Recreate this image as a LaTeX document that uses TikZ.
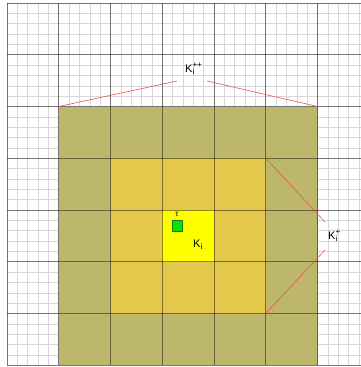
\documentclass[tikz,border=0pt]{standalone}
\usepackage{fontspec}
\setmainfont{Liberation Sans}
\definecolor{olivefill}{RGB}{189,183,107}
\definecolor{midfill}{RGB}{227,200,76}
\definecolor{corefill}{RGB}{255,255,0}
\definecolor{tauin}{RGB}{0,230,0}
\definecolor{tauout}{RGB}{30,120,30}
\definecolor{pointer}{RGB}{240,80,80}
\newcommand{\smtxt}[1]{\mbox{\fontsize{8}{9}\selectfont #1}}
\tikzset{
  fineline/.style={draw=black!16, line width=0.6pt},
  coarseline/.style={draw=black, draw opacity=0.45, line width=0.8pt},
  pointerline/.style={draw=pointer, line width=0.6pt},
  lbl/.style={inner sep=0pt, font=\fontsize{11}{13}\selectfont, anchor=base west},
}
\begin{document}
\begin{tikzpicture}[x=1pt,y=-1pt]
\useasboundingbox (0,0) rectangle (361,367);
\clip (0,0) rectangle (361,367);
\def\s{51.75}
% fine grid
\foreach \i in {0,...,34} { \draw[fineline] ({7+\i*\s/5},3) -- ({7+\i*\s/5},365.25); }
\foreach \j in {0,...,35} { \draw[fineline] (7,{3+\j*\s/5}) -- (361,{3+\j*\s/5}); }
% fills
\fill[olivefill] ({7+\s},{3+2*\s}) rectangle ({7+6*\s},{3+7*\s});
\fill[midfill] ({7+2*\s},{3+3*\s}) rectangle ({7+5*\s},{3+6*\s});
\fill[corefill] ({7+3*\s},{3+4*\s}) rectangle ({7+4*\s},{3+5*\s});
% coarse grid
\foreach \i in {0,...,6} { \draw[coarseline] ({7+\i*\s},3) -- ({7+\i*\s},365.25); }
\foreach \j in {0,...,7} { \draw[coarseline] (7,{3+\j*\s}) -- (361,{3+\j*\s}); }
% tau square
\draw[fill=tauin, draw=tauout, line width=0.8pt] (172,220) rectangle (182,231);
\node[inner sep=0pt, font=\fontsize{8}{9}\selectfont, anchor=base] (tau) at (177,216) {τ};
% labels
\node[lbl] (kpp) at (185,72) {$\mbox{K}_{\smtxt{i}}^{\smtxt{++}}$};
\node[lbl] (kp) at (328,239) {$\mbox{K}_{\smtxt{i}}^{\smtxt{+}}$};
\node[lbl] (ki) at (193,247) {$\mbox{K}_{\smtxt{i}}$};
% pointer coordinates
\coordinate (ppL) at ({7+\s},{3+2*\s});
\coordinate (ppR) at ({7+6*\s},{3+2*\s});
\coordinate (pTop) at ({7+5*\s},{3+3*\s});
\coordinate (pBot) at ({7+5*\s},{3+6*\s});
\coordinate (ppLend) at (177,81);
\coordinate (ppRend) at (207,81);
\coordinate (pTopend) at (325,222);
\coordinate (pBotend) at (325,250);
\draw[pointerline] (ppL) -- (ppLend);
\draw[pointerline] (ppRend) -- (ppR);
\draw[pointerline] (pTop) -- (pTopend);
\draw[pointerline] (pBot) -- (pBotend);
\end{tikzpicture}
\end{document}
